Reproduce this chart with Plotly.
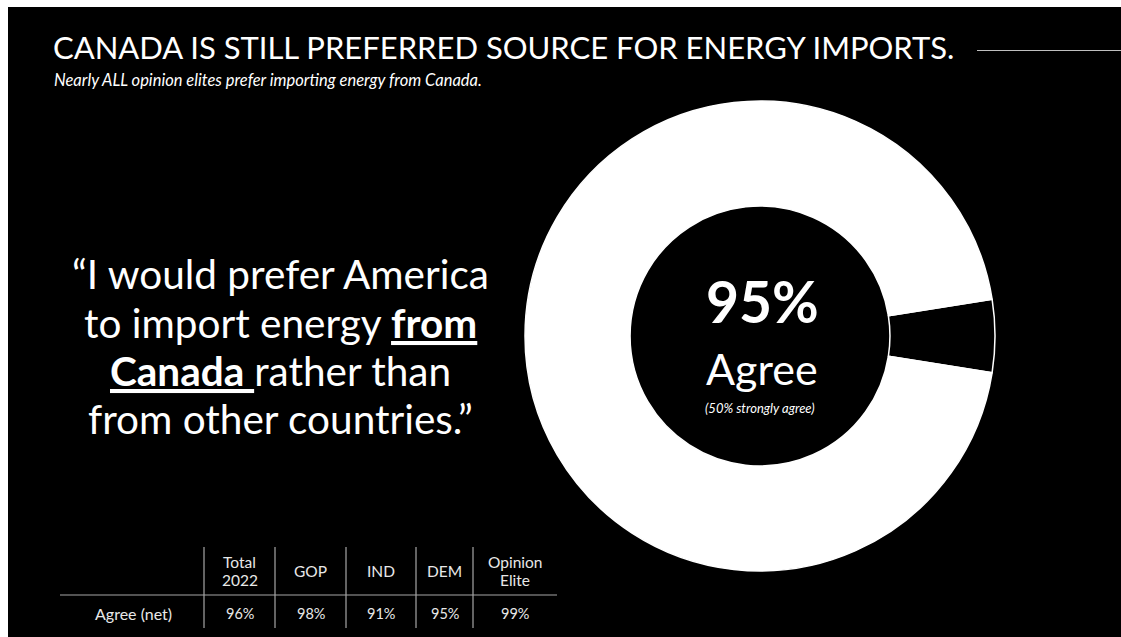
import plotly.graph_objects as go

W, H = 1121, 637
LEFT_M, TOP_M = 8, 7  # white slide margins

# ---- data ----
donut_labels = ["Disagree / other", "Agree"]
donut_values = [5, 95]
donut_colors = ["black", "white"]

groups = ["Total<br>2022", "GOP", "IND", "DEM", "Opinion<br>Elite"]
agree_net = [96, 98, 91, 95, 99]
row_label = "Agree (net)"

title_text = "CANADA IS STILL PREFERRED SOURCE FOR ENERGY IMPORTS."
subtitle_text = "Nearly ALL opinion elites prefer importing energy from Canada."
quote_lines = ["\u201cI would prefer America",
               "to import energy <b><u>from</u></b>",
               "<b><u>Canada </u></b>rather than",
               "from other countries.\u201d"]
center_big = "%d%%" % donut_values[1]
center_word = "Agree"
center_note = "(50% strongly agree)"

FONT = "Lato"

def px(x):
    return x / W

def py(y):
    return 1 - y / H

fig = go.Figure()

# donut
cx, cy, R = 760, 336, 235
fig.add_trace(go.Pie(
    labels=donut_labels, values=donut_values, sort=False,
    direction="clockwise", rotation=81, hole=0.553,
    marker=dict(colors=donut_colors, line=dict(color="white", width=1.5)),
    textinfo="none", hoverinfo="label+percent", showlegend=False,
    domain=dict(x=[px(cx - R), px(cx + R)], y=[py(cy + R), py(cy - R)]),
))

shapes = []
# white slide margins (top and left)
shapes.append(dict(type="rect", xref="paper", yref="paper", x0=0, x1=px(LEFT_M),
                   y0=0, y1=1, fillcolor="white", line=dict(width=0), layer="below"))
shapes.append(dict(type="rect", xref="paper", yref="paper", x0=0, x1=1,
                   y0=py(TOP_M), y1=1, fillcolor="white", line=dict(width=0), layer="below"))
# title rule
shapes.append(dict(type="line", xref="paper", yref="paper", x0=px(977), x1=1,
                   y0=py(50.5), y1=py(50.5), line=dict(color="#bfbfbf", width=1.2)))

annotations = []
annotations.append(dict(text=title_text, x=px(51), y=py(47), xref="paper", yref="paper",
                        xanchor="left", yanchor="middle", showarrow=False,
                        font=dict(family=FONT, size=31, color="white")))
annotations.append(dict(text="<i>" + subtitle_text + "</i>", x=px(52), y=py(80),
                        xref="paper", yref="paper", xanchor="left", yanchor="middle",
                        showarrow=False, font=dict(family=FONT, size=16.5, color="white")))
for line, yc in zip(quote_lines, [273, 322, 370, 418]):
    annotations.append(dict(text=line, x=px(280), y=py(yc), xref="paper", yref="paper",
                            xanchor="center", yanchor="middle", align="center",
                            showarrow=False,
                            font=dict(family=FONT, size=40.5, color="white")))

# donut centre text
annotations.append(dict(text="<b>" + center_big + "</b>", x=px(762), y=py(301),
                        xref="paper", yref="paper", xanchor="center", yanchor="middle",
                        showarrow=False, font=dict(family=FONT, size=57, color="white")))
annotations.append(dict(text=center_word, x=px(762), y=py(368), xref="paper", yref="paper",
                        xanchor="center", yanchor="middle", showarrow=False,
                        font=dict(family=FONT, size=43, color="white")))
annotations.append(dict(text="<i>" + center_note + "</i>", x=px(760), y=py(408),
                        xref="paper", yref="paper", xanchor="center", yanchor="middle",
                        showarrow=False, font=dict(family=FONT, size=13, color="white")))

# table
col_edges = [204, 275, 346, 416, 473, 557]
tbl_color = "#e8e8e8"
line_color = "#a6a6a6"
for e in col_edges[:-1]:
    shapes.append(dict(type="line", xref="paper", yref="paper", x0=px(e), x1=px(e),
                       y0=py(628), y1=py(547), line=dict(color=line_color, width=1.2)))
shapes.append(dict(type="line", xref="paper", yref="paper", x0=px(60), x1=px(557),
                   y0=py(595), y1=py(595), line=dict(color=line_color, width=1.2)))
for i, (g, v) in enumerate(zip(groups, agree_net)):
    xc = (col_edges[i] + col_edges[i + 1]) / 2
    parts = g.split("<br>")
    if len(parts) == 2:
        for part, yc in zip(parts, [562, 580]):
            annotations.append(dict(text=part, x=px(xc), y=py(yc), xref="paper", yref="paper",
                                    xanchor="center", yanchor="middle", showarrow=False,
                                    font=dict(family=FONT, size=15.5, color=tbl_color)))
    else:
        annotations.append(dict(text=g, x=px(xc), y=py(571), xref="paper", yref="paper",
                                xanchor="center", yanchor="middle", showarrow=False,
                                font=dict(family=FONT, size=15.5, color=tbl_color)))
    annotations.append(dict(text="%d%%" % v, x=px(xc), y=py(613), xref="paper", yref="paper",
                            xanchor="center", yanchor="middle", showarrow=False,
                            font=dict(family=FONT, size=14.5, color=tbl_color)))
annotations.append(dict(text=row_label, x=px(133), y=py(613), xref="paper", yref="paper",
                        xanchor="center", yanchor="middle", showarrow=False,
                        font=dict(family=FONT, size=16, color=tbl_color)))

fig.update_layout(
    width=W, height=H, margin=dict(l=0, r=0, t=0, b=0),
    paper_bgcolor="black", plot_bgcolor="black",
    shapes=shapes, annotations=annotations,
)

fig.write_html("out.html", config={"displayModeBar": False},
               post_script="document.body.style.margin='0';"
                           "document.documentElement.style.overflow='hidden';")
